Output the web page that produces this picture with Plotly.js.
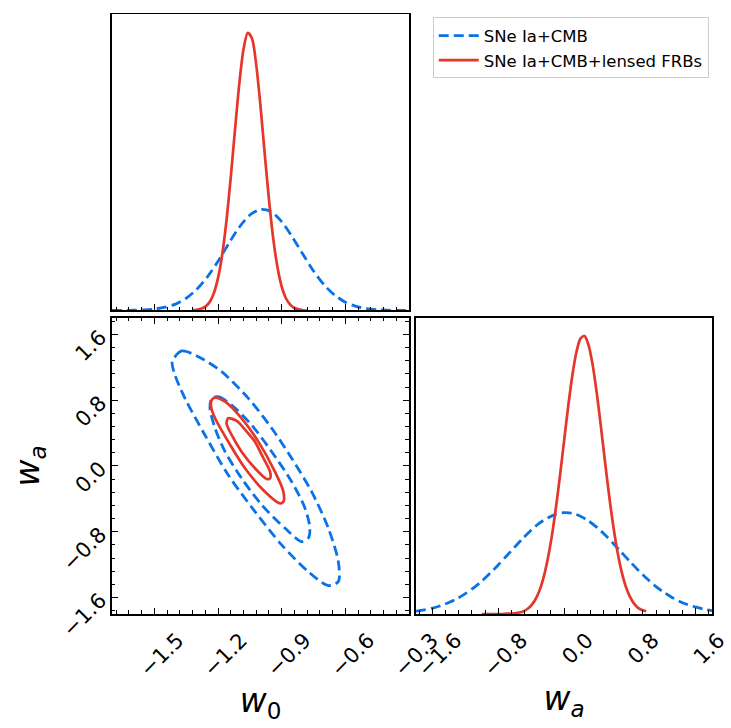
<!DOCTYPE html>
<html>
<head>
<meta charset="utf-8">
<script src="https://cdn.plot.ly/plotly-3.0.1.min.js"></script>
<style>html,body{margin:0;padding:0;background:#fff;}#chart{width:731px;height:728px;}</style>
</head>
<body>
<div id="chart"></div>
<script>
// Series names
const seriesNames = ["SNe Ia+CMB", "SNe Ia+CMB+lensed FRBs"];

// 1D marginal of w0 (top panel), SNe Ia+CMB
const w0GridBlue = [-1.70,-1.65,-1.60,-1.55,-1.50,-1.45,-1.40,-1.35,-1.30,-1.25,-1.20,-1.15,-1.10,-1.05,-1.00,-0.95,-0.90,-0.85,-0.80,-0.75,-0.70,-0.65,-0.60,-0.55,-0.50,-0.45,-0.40,-0.35,-0.30];
const w0PdfBlue  = [0.000,0.000,0.001,0.002,0.005,0.012,0.023,0.044,0.076,0.121,0.177,0.240,0.299,0.343,0.363,0.355,0.319,0.264,0.202,0.142,0.092,0.055,0.030,0.015,0.007,0.003,0.001,0.000,0.000];

// 1D marginal of w0 (top panel), SNe Ia+CMB+lensed FRBs
const w0GridRed = [-1.32,-1.30,-1.28,-1.26,-1.24,-1.22,-1.20,-1.18,-1.16,-1.14,-1.12,-1.10,-1.08,-1.06,-1.04,-1.02,-1.00,-0.98,-0.96,-0.94,-0.92,-0.90,-0.88,-0.86,-0.84,-0.82,-0.80,-0.78];
const w0PdfRed  = [0.001,0.002,0.006,0.014,0.030,0.062,0.117,0.203,0.325,0.479,0.650,0.813,0.938,0.997,0.977,0.882,0.734,0.563,0.398,0.259,0.156,0.086,0.044,0.021,0.009,0.004,0.001,0.000];

// 1D marginal of wa (bottom-right panel), SNe Ia+CMB
const waGridBlue = [-1.8,-1.7,-1.6,-1.5,-1.4,-1.3,-1.2,-1.1,-1.0,-0.9,-0.8,-0.7,-0.6,-0.5,-0.4,-0.3,-0.2,-0.1,0.0,0.1,0.2,0.3,0.4,0.5,0.6,0.7,0.8,0.9,1.0,1.1,1.2,1.3,1.4,1.5,1.6,1.7,1.8];
const waPdfBlue  = [0.010,0.015,0.021,0.030,0.041,0.055,0.073,0.094,0.118,0.146,0.176,0.208,0.240,0.272,0.301,0.326,0.345,0.358,0.364,0.362,0.351,0.334,0.311,0.284,0.253,0.221,0.189,0.158,0.129,0.103,0.081,0.062,0.046,0.034,0.025,0.017,0.012];

// 1D marginal of wa (bottom-right panel), SNe Ia+CMB+lensed FRBs
const waGridRed = [-1.00,-0.95,-0.90,-0.85,-0.80,-0.75,-0.70,-0.65,-0.60,-0.55,-0.50,-0.45,-0.40,-0.35,-0.30,-0.25,-0.20,-0.15,-0.10,-0.05,0.00,0.05,0.10,0.15,0.20,0.25,0.30,0.35,0.40,0.45,0.50,0.55,0.60,0.65,0.70,0.75,0.80,0.85,0.90,0.95,1.00];
const waPdfRed  = [0.000,0.000,0.000,0.000,0.000,0.000,0.001,0.001,0.002,0.005,0.009,0.017,0.030,0.051,0.083,0.130,0.194,0.276,0.378,0.494,0.619,0.743,0.854,0.939,0.989,0.998,0.964,0.892,0.790,0.670,0.544,0.423,0.315,0.224,0.153,0.100,0.063,0.038,0.022,0.014,0.010];

// 2D contours (w0, wa), SNe Ia+CMB
const blue2sW0 = [-1.416,-1.371,-1.293,-1.183,-1.057,-0.947,-0.853,-0.759,-0.680,-0.633,-0.633,-0.680,-0.775,-0.900,-1.026,-1.152,-1.262,-1.356,-1.403,-1.416];
const blue2sWa = [1.269,1.399,1.330,1.147,0.823,0.459,0.094,-0.312,-0.757,-1.163,-1.406,-1.455,-1.285,-0.960,-0.555,-0.109,0.377,0.823,1.107,1.269];
const blue1sW0 = [-1.230,-1.199,-1.136,-1.042,-0.947,-0.853,-0.790,-0.767,-0.775,-0.806,-0.884,-0.994,-1.089,-1.167,-1.214,-1.238,-1.230];
const blue1sWa = [0.823,0.843,0.742,0.499,0.174,-0.191,-0.514,-0.757,-0.879,-0.920,-0.757,-0.474,-0.149,0.174,0.459,0.702,0.823];

// 2D contours (w0, wa), SNe Ia+CMB+lensed FRBs
const red2sW0 = [-1.230,-1.214,-1.167,-1.089,-1.010,-0.932,-0.892,-0.892,-0.908,-0.979,-1.073,-1.152,-1.214,-1.233,-1.230];
const red2sWa = [0.803,0.831,0.782,0.580,0.296,-0.069,-0.312,-0.434,-0.454,-0.312,-0.028,0.296,0.580,0.722,0.803];
const red1sW0 = [-1.152,-1.112,-1.065,-1.026,-0.994,-0.955,-0.955,-0.971,-1.026,-1.089,-1.136,-1.160,-1.152];
const red1sWa = [0.580,0.548,0.418,0.296,0.134,-0.069,-0.150,-0.158,-0.028,0.174,0.377,0.519,0.580];

// Tick labels
const w0Ticks = [-1.5,-1.2,-0.9,-0.6,-0.3];
const waTicks = [-1.6,-0.8,0.0,0.8,1.6];

const BLUE = '#0a72e8';
const RED = '#e5362a';
const blueLine = {color: BLUE, width: 2.8, dash: '10px,5px', shape: 'spline', smoothing: 0.8};
const redLine = {color: RED, width: 2.7, shape: 'spline', smoothing: 0.8};

const traces = [
  {x: w0GridBlue, y: w0PdfBlue, xaxis: 'x', yaxis: 'y', mode: 'lines', line: blueLine, name: seriesNames[0], legendgroup: 'a', showlegend: true},
  {x: w0GridRed, y: w0PdfRed, xaxis: 'x', yaxis: 'y', mode: 'lines', line: redLine, name: seriesNames[1], legendgroup: 'b', showlegend: true},
  {x: blue2sW0, y: blue2sWa, xaxis: 'x2', yaxis: 'y2', mode: 'lines', line: blueLine, legendgroup: 'a', showlegend: false},
  {x: blue1sW0, y: blue1sWa, xaxis: 'x2', yaxis: 'y2', mode: 'lines', line: blueLine, legendgroup: 'a', showlegend: false},
  {x: red2sW0, y: red2sWa, xaxis: 'x2', yaxis: 'y2', mode: 'lines', line: redLine, legendgroup: 'b', showlegend: false},
  {x: red1sW0, y: red1sWa, xaxis: 'x2', yaxis: 'y2', mode: 'lines', line: redLine, legendgroup: 'b', showlegend: false},
  {x: waGridBlue, y: waPdfBlue, xaxis: 'x3', yaxis: 'y3', mode: 'lines', line: blueLine, legendgroup: 'a', showlegend: false},
  {x: waGridRed, y: waPdfRed, xaxis: 'x3', yaxis: 'y3', mode: 'lines', line: redLine, legendgroup: 'b', showlegend: false}
];

const base = {
  showline: true, linecolor: '#000', linewidth: 1.6,
  showgrid: false, zeroline: false,
  tickcolor: '#000', tickwidth: 1, ticklen: 6,
  tickfont: {family: 'DejaVu Sans', size: 21, color: '#000'}
};
const xDom = [0.1532, 0.5595];
const x3Dom = [0.5691, 0.9740];
const topDom = [0.5735, 0.9801];
const botDom = [0.1566, 0.5632];
const titleFont = {family: 'DejaVu Sans', size: 33, color: '#000'};

const layout = {
  width: 731, height: 728,
  margin: {l: 0, r: 0, t: 0, b: 0},
  paper_bgcolor: '#fff', plot_bgcolor: '#fff',
  font: {family: 'DejaVu Sans', color: '#000'},
  showlegend: true,
  legend: {x: 0.592, y: 0.976, xanchor: 'left', yanchor: 'top',
           bordercolor: '#cccccc', borderwidth: 1, bgcolor: '#fff',
           font: {family: 'DejaVu Sans', size: 16.5, color: '#000'},
           itemwidth: 40, tracegroupgap: 0},
  xaxis: Object.assign({}, base, {domain: xDom, anchor: 'y', range: [-1.7, -0.2999], mirror: true,
    ticks: 'inside', tickvals: w0Ticks, showticklabels: false,
    minor: {ticks: 'inside', ticklen: 3.5, dtick: 0.06, tick0: -1.5, tickcolor: '#000', tickwidth: 1, showgrid: false}}),
  yaxis: Object.assign({}, base, {domain: topDom, anchor: 'x', range: [0, 1.063], mirror: true,
    ticks: '', showticklabels: false}),
  xaxis2: Object.assign({}, base, {domain: xDom, anchor: 'y2', range: [-1.7, -0.2999], mirror: 'ticks',
    ticks: 'inside', tickvals: w0Ticks, tickformat: '.1f', tickangle: -45, ticklabelshift: 23, ticklabelstandoff: 4,
    minor: {ticks: 'inside', ticklen: 3.5, dtick: 0.06, tick0: -1.5, tickcolor: '#000', tickwidth: 1, showgrid: false},
    title: {text: '<i>w</i><sub>0</sub>', font: titleFont, standoff: 6}}),
  yaxis2: Object.assign({}, base, {domain: botDom, anchor: 'x2', range: [-1.8, 1.8], mirror: 'ticks',
    ticks: 'inside', tickvals: waTicks, tickformat: '.1f', tickangle: -45, ticklabelstandoff: 6,
    minor: {ticks: 'inside', ticklen: 3.5, dtick: 0.16, tick0: 0, tickcolor: '#000', tickwidth: 1, showgrid: false},
    title: {text: '<i>w</i><sub><i>a</i></sub>', font: titleFont, standoff: 8}}),
  xaxis3: Object.assign({}, base, {domain: x3Dom, anchor: 'y3', range: [-1.8, 1.8], mirror: true,
    ticks: 'inside', tickvals: waTicks, tickformat: '.1f', tickangle: -45, ticklabelshift: 23, ticklabelstandoff: 4,
    minor: {ticks: 'inside', ticklen: 3.5, dtick: 0.16, tick0: 0, tickcolor: '#000', tickwidth: 1, showgrid: false},
    title: {text: '<i>w</i><sub><i>a</i></sub>', font: titleFont, standoff: 6}}),
  yaxis3: Object.assign({}, base, {domain: botDom, anchor: 'x3', range: [0, 1.063], mirror: true,
    ticks: '', showticklabels: false})
};

Plotly.newPlot('chart', traces, layout, {staticPlot: true, displayModeBar: false});
</script>
</body>
</html>
